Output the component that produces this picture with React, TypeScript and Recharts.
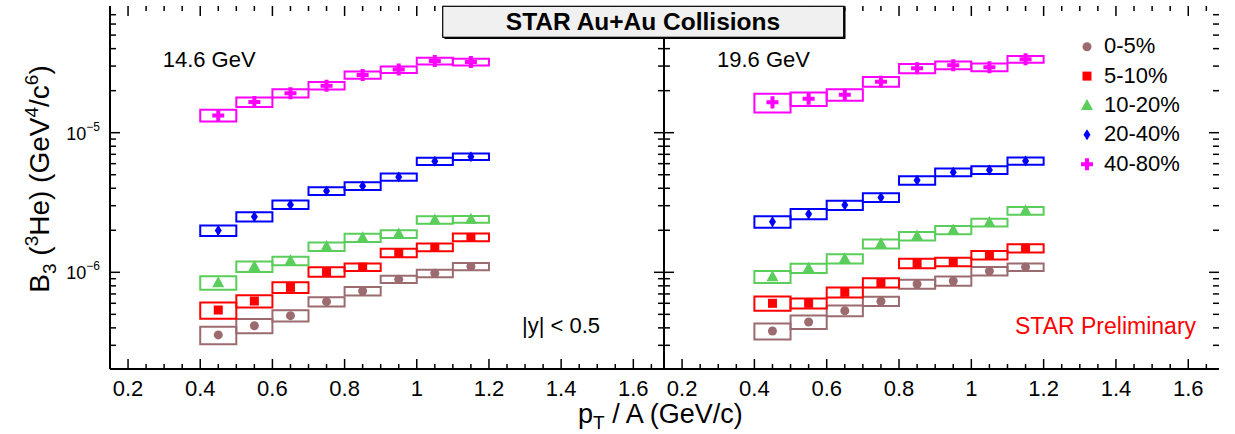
import React from "react";
import { ScatterChart, Scatter, XAxis, YAxis, ErrorBar, ReferenceArea, ReferenceLine } from "recharts";

// pT/A bins (GeV/c)
const binLow = [0.4, 0.5, 0.6, 0.7, 0.8, 0.9, 1.0, 1.1];
const binHigh = [0.5, 0.6, 0.7, 0.8, 0.9, 1.0, 1.1, 1.2];
const binCenter = [0.45, 0.55, 0.65, 0.75, 0.85, 0.95, 1.05, 1.15];

const centralities = ["0-5%", "5-10%", "10-20%", "20-40%", "40-80%"];

// B3 of 3He, 14.6 GeV
const b3_14_0_5 = [3.56e-7, 4.14e-7, 4.89e-7, 6.16e-7, 7.35e-7, 8.91e-7, 9.84e-7, 1.1e-6];
const b3_14_5_10 = [5.37e-7, 6.23e-7, 7.8e-7, 1.01e-6, 1.09e-6, 1.38e-6, 1.51e-6, 1.78e-6];
const b3_14_10_20 = [8.42e-7, 1.1e-6, 1.21e-6, 1.53e-6, 1.77e-6, 1.88e-6, 2.37e-6, 2.4e-6];
const b3_14_20_40 = [1.99e-6, 2.5e-6, 3.05e-6, 3.82e-6, 4.15e-6, 4.82e-6, 6.24e-6, 6.73e-6];
const b3_14_40_80 = [1.33e-5, 1.66e-5, 1.92e-5, 2.17e-5, 2.59e-5, 2.83e-5, 3.26e-5, 3.21e-5];

// B3 of 3He, 19.6 GeV
const b3_19_0_5 = [3.8e-7, 4.41e-7, 5.31e-7, 6.2e-7, 8.24e-7, 8.66e-7, 1.02e-6, 1.09e-6];
const b3_19_5_10 = [6.0e-7, 6.0e-7, 7.19e-7, 8.42e-7, 1.16e-6, 1.19e-6, 1.33e-6, 1.49e-6];
const b3_19_10_20 = [9.3e-7, 1.07e-6, 1.25e-6, 1.6e-6, 1.82e-6, 2.01e-6, 2.27e-6, 2.76e-6];
const b3_19_20_40 = [2.3e-6, 2.62e-6, 3.03e-6, 3.44e-6, 4.56e-6, 5.2e-6, 5.41e-6, 6.27e-6];
const b3_19_40_80 = [1.65e-5, 1.75e-5, 1.87e-5, 2.32e-5, 2.89e-5, 3.04e-5, 2.94e-5, 3.36e-5];

// systematic uncertainty, percent (boxes)
const sys_14_0_5 = [14.4, 11.7, 9.2, 7.6, 7.0, 5.9, 6.2, 5.9];
const sys_14_5_10 = [13.4, 10.0, 8.9, 7.8, 6.2, 7.0, 6.4, 6.4];
const sys_14_10_20 = [11.1, 8.7, 7.0, 7.0, 6.8, 6.4, 6.2, 5.6];
const sys_14_20_40 = [8.7, 7.6, 7.0, 6.4, 6.2, 5.9, 5.9, 5.4];
const sys_14_40_80 = [9.7, 7.8, 6.8, 6.2, 5.9, 5.4, 5.4, 5.6];

const sys_19_0_5 = [13.0, 11.1, 8.9, 7.6, 7.3, 7.6, 7.0, 6.2];
const sys_19_5_10 = [11.7, 8.4, 8.1, 7.6, 7.8, 7.0, 7.0, 6.8];
const sys_19_10_20 = [10.0, 7.6, 7.6, 7.3, 7.0, 6.8, 6.4, 6.4];
const sys_19_20_40 = [9.5, 8.4, 7.6, 7.3, 7.0, 6.4, 6.4, 5.9];
const sys_19_40_80 = [15.3, 11.1, 9.5, 8.1, 7.6, 6.4, 6.4, 5.6];

// statistical uncertainty, percent (only visible outside the markers for these two)
const stat_14_20_40 = [8, 7, 7, 7, 7, 6, 6, 6];
const stat_14_40_80 = [10, 8, 8, 7, 7, 7, 7, 8];
const stat_19_20_40 = [8, 7, 7, 7, 7, 6, 6, 6];
const stat_19_40_80 = [10, 8, 8, 7, 7, 7, 7, 8];

const xTicks = [
  0.2, 0.25, 0.3, 0.35, 0.4, 0.45, 0.5, 0.55, 0.6, 0.65, 0.7, 0.75, 0.8, 0.85, 0.9, 0.95,
  1.0, 1.05, 1.1, 1.15, 1.2, 1.25, 1.3, 1.35, 1.4, 1.45, 1.5, 1.55, 1.6, 1.65,
];
const yTicks = [
  3e-7, 4e-7, 5e-7, 6e-7, 7e-7, 8e-7, 9e-7, 1e-6, 2e-6, 3e-6, 4e-6, 5e-6, 6e-6, 7e-6, 8e-6,
  9e-6, 1e-5, 2e-5, 3e-5, 4e-5, 5e-5, 6e-5, 7e-5,
];

const panels = [
  {
    energy: "14.6 GeV",
    values: [b3_14_0_5, b3_14_5_10, b3_14_10_20, b3_14_20_40, b3_14_40_80],
    sys: [sys_14_0_5, sys_14_5_10, sys_14_10_20, sys_14_20_40, sys_14_40_80],
    stat: [null, null, null, stat_14_20_40, stat_14_40_80],
  },
  {
    energy: "19.6 GeV",
    values: [b3_19_0_5, b3_19_5_10, b3_19_10_20, b3_19_20_40, b3_19_40_80],
    sys: [sys_19_0_5, sys_19_5_10, sys_19_10_20, sys_19_20_40, sys_19_40_80],
    stat: [null, null, null, stat_19_20_40, stat_19_40_80],
  },
];

const colors = ["#9b6b70", "#ff0000", "#5acd5a", "#0000ff", "#ff00ff"];
const shapes = ["circle", "square", "triangle", "diamond", "cross"];

const FONT = "'Liberation Sans', Arial, Helvetica, sans-serif";
const W = 1235;
const H = 434;
const X_DOMAIN = [0.15, 1.685];
const Y_DOMAIN = [2.03e-7, 8.08e-5];
// tick lengths expressed in axis units: px per decade (y) and px per unit (x)
const PX_PER_DECADE = 139.6;
const PX_PER_UNIT = 361;

function Marker({ kind, cx, cy, color }: any) {
  if (kind === "circle") return <circle cx={cx} cy={cy} r={4.5} fill={color} />;
  if (kind === "square") return <rect x={cx - 4.5} y={cy - 4.5} width={9} height={9} fill={color} />;
  if (kind === "triangle")
    return <polygon points={`${cx},${cy - 6.5} ${cx + 6},${cy + 4.5} ${cx - 6},${cy + 4.5}`} fill={color} />;
  if (kind === "diamond")
    return <polygon points={`${cx},${cy - 5.5} ${cx + 3.5},${cy} ${cx},${cy + 5.5} ${cx - 3.5},${cy}`} fill={color} />;
  return <path d={`M${cx - 6},${cy - 2}h4v-4h4v4h4v4h-4v4h-4v-4h-4z`} fill={color} />;
}

const isMajorX = (v: number) => Math.abs(v * 5 - Math.round(v * 5)) < 1e-6;
const isMajorY = (v: number) => Math.abs(Math.log10(v) - Math.round(Math.log10(v))) < 1e-6;

function XLabel(props: any) {
  const x = Number(props.x);
  const y = Number(props.y);
  const v = props.payload.value;
  if (!isMajorX(v)) return <g />;
  return (
    <text x={x} y={y + 27} textAnchor="middle" fontSize={22} fontFamily={FONT} fill="#000">
      {String(Math.round(v * 10) / 10)}
    </text>
  );
}

function YLabel(props: any) {
  const x = Number(props.x);
  const y = Number(props.y);
  const v = props.payload.value;
  if (!props.showLabel || !isMajorY(v)) return <g />;
  const exp = Math.round(Math.log10(v));
  return (
    <text x={x - 10} y={y + 7} textAnchor="end" fontSize={18} fontFamily={FONT} fill="#000">
      10
      <tspan fontSize={12} dy={-9}>
        {"\u2212" + String(-exp)}
      </tspan>
    </text>
  );
}

// inward ROOT-style tick marks on all four sides, placed through the chart scales
function tickMarks(prefix: string) {
  const out: any[] = [];
  xTicks.forEach((v) => {
    const f = Math.pow(10, (isMajorX(v) ? 10 : 5) / PX_PER_DECADE);
    out.push(
      <ReferenceLine key={`${prefix}b${v}`} xAxisId="x" yAxisId="y" ifOverflow="visible"
        segment={[{ x: v, y: Y_DOMAIN[0] }, { x: v, y: Y_DOMAIN[0] * f }]} stroke="#000" strokeWidth={1.5} />,
      <ReferenceLine key={`${prefix}t${v}`} xAxisId="x" yAxisId="y" ifOverflow="visible"
        segment={[{ x: v, y: Y_DOMAIN[1] }, { x: v, y: Y_DOMAIN[1] / f }]} stroke="#000" strokeWidth={1.5} />
    );
  });
  yTicks.forEach((v) => {
    const d = (isMajorY(v) ? 10 : 6) / PX_PER_UNIT;
    out.push(
      <ReferenceLine key={`${prefix}l${v}`} xAxisId="x" yAxisId="y" ifOverflow="visible"
        segment={[{ x: X_DOMAIN[0], y: v }, { x: X_DOMAIN[0] + d, y: v }]} stroke="#000" strokeWidth={1.5} />,
      <ReferenceLine key={`${prefix}r${v}`} xAxisId="x" yAxisId="y" ifOverflow="visible"
        segment={[{ x: X_DOMAIN[1], y: v }, { x: X_DOMAIN[1] - d, y: v }]} stroke="#000" strokeWidth={1.5} />
    );
  });
  return out;
}

const axisLine = { stroke: "#000", strokeWidth: 2 };

function Panel({ panel, plotLeft, plotRight, yLabels, id }: any) {
  const mirror = binCenter.map((x, i) => ({ x, y: panel.values[0][i] }));
  return (
    <div style={{ position: "absolute", left: 0, top: 0 }}>
      <ScatterChart width={W} height={H} margin={{ top: 6, right: W - plotRight, bottom: 0, left: 0 }}>
        <XAxis
          xAxisId="x"
          dataKey="x"
          type="number"
          domain={X_DOMAIN}
          allowDataOverflow
          ticks={xTicks}
          interval={0}
          height={65}
          tickSize={0}
          tickMargin={0}
          tickLine={false}
          axisLine={axisLine}
          tick={(p: any) => <XLabel {...p} />}
        />
        <XAxis
          xAxisId="xt"
          dataKey="x"
          type="number"
          orientation="top"
          domain={X_DOMAIN}
          allowDataOverflow
          height={0}
          tick={false}
          tickLine={false}
          axisLine={axisLine}
        />
        <YAxis
          yAxisId="y"
          dataKey="y"
          type="number"
          scale="log"
          domain={Y_DOMAIN}
          allowDataOverflow
          ticks={yTicks}
          interval={0}
          width={plotLeft}
          tickSize={0}
          tickMargin={0}
          tickLine={false}
          axisLine={axisLine}
          tick={(p: any) => <YLabel {...p} showLabel={yLabels} />}
        />
        <YAxis
          yAxisId="yr"
          dataKey="y"
          type="number"
          scale="log"
          orientation="right"
          domain={Y_DOMAIN}
          allowDataOverflow
          width={0}
          tick={false}
          tickLine={false}
          axisLine={axisLine}
        />
        {tickMarks(id)}
        {panel.values.map((vals: number[], k: number) =>
          vals.map((v, i) => (
            <ReferenceArea
              key={`box-${k}-${i}`}
              xAxisId="x"
              yAxisId="y"
              x1={binLow[i]}
              x2={binHigh[i]}
              y1={v * (1 - panel.sys[k][i] / 100)}
              y2={v * (1 + panel.sys[k][i] / 100)}
              fill="none"
              stroke={colors[k]}
              strokeWidth={2}
              ifOverflow="visible"
            />
          ))
        )}
        <Scatter xAxisId="xt" yAxisId="yr" data={mirror} isAnimationActive={false} legendType="none" shape={() => <g />} />
        {panel.values.map((vals: number[], k: number) => {
          const stat = panel.stat[k];
          const data = binCenter.map((x, i) => ({
            x,
            y: vals[i],
            err: stat ? (vals[i] * stat[i]) / 100 : 0,
          }));
          return (
            <Scatter
              key={`s-${k}`}
              name={centralities[k]}
              xAxisId="x"
              yAxisId="y"
              data={data}
              isAnimationActive={false}
              shape={(p: any) => <Marker kind={shapes[k]} cx={p.cx} cy={p.cy} color={colors[k]} />}
            >
              {stat && <ErrorBar dataKey="err" direction="y" width={0} stroke={colors[k]} strokeWidth={1.5} />}
            </Scatter>
          );
        })}
      </ScatterChart>
    </div>
  );
}

function Overlay() {
  const legendBase = [53.3, 82.7, 112, 141.4, 170.8];
  return (
    <svg
      width={W}
      height={H}
      style={{ position: "absolute", left: 0, top: 0, pointerEvents: "none" }}
      fontFamily={FONT}
    >
      {/* title pave */}
      <rect x={444.5} y={8} width={401} height={31} fill="#000" />
      <rect x={442.7} y={6.3} width={401} height={31} fill="#f0f0f0" stroke="#000" strokeWidth={1.2} />
      <text x={643} y={30} textAnchor="middle" fontSize={24.5} fontWeight="bold" fill="#000">
        STAR Au+Au Collisions
      </text>

      <text x={162.7} y={67.3} fontSize={22} fill="#000">
        {panels[0].energy}
      </text>
      <text x={717} y={67.3} fontSize={22} fill="#000">
        {panels[1].energy}
      </text>
      <text x={522} y={333.3} fontSize={22} fill="#000">
        |y| &lt; 0.5
      </text>
      <text x={1015} y={334} fontSize={23} fill="#ff0000">
        STAR Preliminary
      </text>

      {centralities.map((c, k) => (
        <g key={c}>
          <Marker kind={shapes[k]} cx={1087} cy={legendBase[k] - 6.6} color={colors[k]} />
          <text x={1104} y={legendBase[k]} fontSize={22} fill="#000">
            {c}
          </text>
        </g>
      ))}

      {/* axis titles */}
      <text transform="translate(49,179) rotate(-90)" textAnchor="middle" fontSize={28} fill="#000">
        B
        <tspan fontSize={19} dy={7}>
          3
        </tspan>
        <tspan dy={-7}>{" ("}</tspan>
        <tspan fontSize={19} dy={-11}>
          3
        </tspan>
        <tspan dy={11}>{"He) (GeV"}</tspan>
        <tspan fontSize={19} dy={-11}>
          4
        </tspan>
        <tspan dy={11}>{"/c"}</tspan>
        <tspan fontSize={19} dy={-11}>
          6
        </tspan>
        <tspan dy={11}>{")"}</tspan>
      </text>
      <text x={578} y={423} fontSize={27} fill="#000">
        p
        <tspan fontSize={19} dy={6}>
          T
        </tspan>
        <tspan dy={-6}>{" / A (GeV/c)"}</tspan>
      </text>
    </svg>
  );
}

export default function App() {
  return (
    <div style={{ position: "absolute", left: 0, top: 0, width: W, height: H, background: "#fff" }}>
      <Panel panel={panels[0]} plotLeft={110} plotRight={664} yLabels id="p1" />
      <Panel panel={panels[1]} plotLeft={664} plotRight={1219} yLabels={false} id="p2" />
      <Overlay />
    </div>
  );
}
